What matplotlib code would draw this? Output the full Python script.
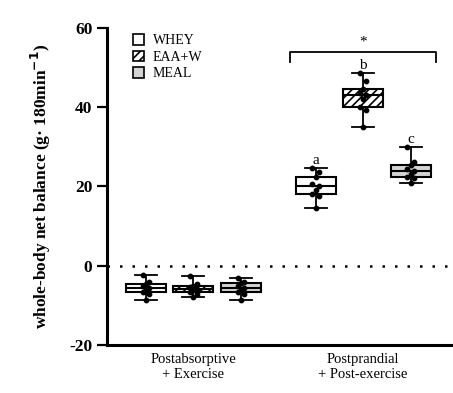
import numpy as np
import matplotlib
matplotlib.use("Agg")
import matplotlib.pyplot as plt
from matplotlib.patches import Patch

plt.rcParams['font.family'] = ['Liberation Serif', 'DejaVu Serif']
plt.rcParams['hatch.linewidth'] = 1.2
plt.rcParams['axes.unicode_minus'] = False

groups = ['Postabsorptive\n+ Exercise', 'Postprandial\n+ Post-exercise']
treatments = ['WHEY', 'EAA+W', 'MEAL']
letters = ['a', 'b', 'c']

# individual values (g / 180 min)
post_abs = {
    'WHEY': [-2.3, -4.0, -4.5, -5.0, -5.5, -6.0, -6.6, -7.0, -8.6],
    'EAA+W': [-2.5, -4.5, -5.0, -5.4, -5.8, -6.0, -6.5, -7.0, -7.9],
    'MEAL': [-3.0, -4.0, -4.4, -5.0, -5.5, -6.0, -6.6, -7.0, -8.6],
}
post_pr = {
    'WHEY': [24.7, 23.6, 22.5, 20.5, 20.0, 19.2, 18.2, 17.6, 14.6],
    'EAA+W': [48.7, 46.5, 44.5, 43.5, 43.0, 42.0, 40.0, 39.3, 35.0],
    'MEAL': [30.0, 26.3, 25.5, 24.5, 24.0, 23.2, 22.5, 22.2, 21.0],
}

fills = ['white', 'white', '#d4d4d4']
hatches = ['', '////', '']

fig = plt.figure(figsize=(4.53, 3.93), dpi=100)
ax = fig.add_axes([0.236, 0.122, 0.764, 0.807])

offset = 0.28
width = 0.235
for gi, data in enumerate([post_abs, post_pr]):
    for ti, name in enumerate(treatments):
        pos = gi + 1 + (ti - 1) * offset
        vals = np.array(data[name])
        ax.bxp([{
            'med': np.median(vals), 'q1': np.percentile(vals, 25), 'q3': np.percentile(vals, 75),
            'whislo': vals.min(), 'whishi': vals.max(), 'fliers': []}],
            positions=[pos], widths=width, patch_artist=True,
            boxprops=dict(facecolor=fills[ti], edgecolor='black', linewidth=1.5, hatch=hatches[ti]),
            medianprops=dict(color='black', linewidth=1.5),
            whiskerprops=dict(color='black', linewidth=1.3),
            capprops=dict(color='black', linewidth=1.3), capwidths=width * 0.55)
        jitter = np.tile([-0.02, 0.02, 0.0], len(vals))[:len(vals)]
        ax.scatter(pos + jitter, vals, s=10, color='black', zorder=5)
        if gi == 1:
            ax.text(pos, vals.max() + 0.3, letters[ti], ha='center', va='bottom', fontsize=11)

ax.axhline(0, color='black', linestyle=(0, (1, 4)), linewidth=1.8)

# significance bracket
ax.plot([2 - offset - 0.15, 2 - offset - 0.15, 2 + offset + 0.15, 2 + offset + 0.15],
        [51.5, 54, 54, 51.5], color='black', linewidth=1.3)
ax.text(2, 54.8, '*', ha='center', va='bottom', fontsize=11)

ax.set_xlim(0.49, 2.53)
ax.set_ylim(-20, 60)
ax.set_yticks([-20, 0, 20, 40, 60])
ax.set_xticks([1, 2])
ax.set_xticklabels(groups, fontsize=10.5)
ax.tick_params(axis='x', length=0, pad=6)
ax.tick_params(axis='y', length=7, width=1.6, labelsize=12.5)
for lab in ax.get_yticklabels():
    lab.set_fontweight('bold')
ax.spines['top'].set_visible(False)
ax.spines['right'].set_visible(False)
ax.spines['left'].set_linewidth(2.2)
ax.spines['bottom'].set_linewidth(2.2)
ax.set_ylabel('whole-body net balance (g· 180min$^{\\mathbf{-1}}$)', fontsize=12.5, fontweight='bold', labelpad=12)

handles = [Patch(facecolor=fills[i], edgecolor='black', hatch=hatches[i], linewidth=1.2) for i in range(3)]
ax.legend(handles, treatments, loc='upper left', bbox_to_anchor=(0.04, 1.02), frameon=False,
          fontsize=10, handlelength=0.8, handleheight=0.8, handletextpad=0.6, labelspacing=0.25)

fig.savefig('out.png', dpi=100)
